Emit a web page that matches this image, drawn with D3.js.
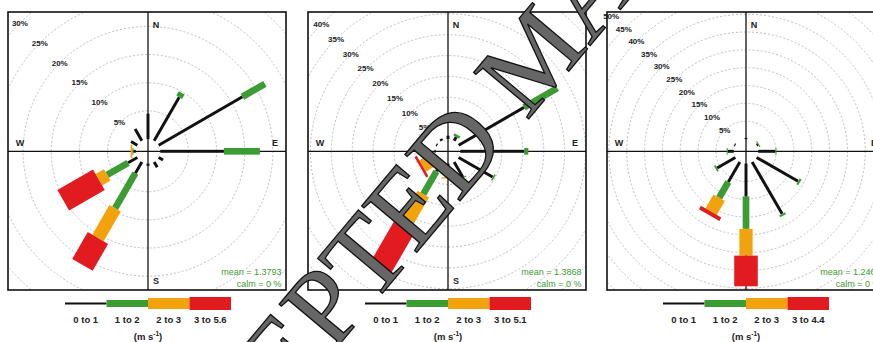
<!DOCTYPE html>
<html>
<head>
<meta charset="utf-8">
<script src="https://cdn.jsdelivr.net/npm/d3@7"></script>
<style>
    body { margin: 0; background: #fff; }
    svg { display: block; font-family: "Liberation Sans", Arial, sans-serif; }
</style>
</head>
<body>
<div id="wrapper"></div>
<script>
const directions = [0, 30, 60, 90, 120, 150, 180, 210, 240, 270, 300, 330]
const speedBins = ['0 to 1', '1 to 2', '2 to 3']
const topBins = ['3 to 5.6', '3 to 5.1', '3 to 4.4']
const meanSpeeds = ['1.3793', '1.3868', '1.2466']
const calmPct = [0, 0, 0]
const ringTicksA = [5, 10, 15, 20, 25, 30]
const ringTicksB = [5, 10, 15, 20, 25, 30, 35, 40]
const ringTicksC = [5, 10, 15, 20, 25, 30, 35, 40, 45, 50]

// % of hours per direction, one column per speed bin
const freqA = [
    [4.5, 0, 0, 0],
    [8.9, 0.9, 0, 0],
    [17.2, 4.6, 0, 0],
    [11.3, 6.4, 0, 0],
    [0.9, 0, 0, 0],
    [1.1, 0, 0, 0],
    [0.4, 0, 0, 0],
    [2.3, 7.2, 6.1, 5.5],
    [1.9, 4.3, 1.7, 7.3],
    [0.4, 0.2, 0.3, 0],
    [1.3, 0, 0, 0],
    [2.4, 0, 0, 0]
]
const freqB = [
    [0.8, 0, 0, 0],
    [1.0, 0.6, 0, 0],
    [18.1, 9.2, 0, 0],
    [15.3, 1.0, 0, 0],
    [9.4, 0.4, 0, 0],
    [4.2, 0.3, 0, 0],
    [3.1, 0.2, 0.3, 0],
    [2.6, 6.3, 7.8, 12.7],
    [0.8, 0.5, 2.8, 0.6],
    [0.3, 0, 0, 0],
    [0.3, 0, 0, 0],
    [0.5, 0, 0, 0]
]
const freqC = [
    [0.3, 0, 0, 0],
    [0, 0, 0, 0],
    [0.4, 0.3, 0, 0],
    [4.8, 0.3, 0, 0],
    [13.4, 0.6, 0, 0],
    [16.8, 0.6, 0, 0],
    [9.2, 9.1, 7.5, 8.6],
    [6.5, 5.1, 4.5, 1.1],
    [5.9, 0.5, 0, 0],
    [1.7, 0.3, 0, 0],
    [0.3, 0, 0, 0],
    [0, 0, 0, 0]
]

const colours = ['#111111', '#3c9c34', '#f2a20c', '#e11b1f']
const keyHeights = [2, 7, 11, 13]
const lo = Math.pow(0.002, 0.25), hi = Math.pow(0.016, 0.25)
const boxWidths = d3.range(4).map(i => Math.pow(lo + (hi - lo) * i / 3, 4))

const panels = [
    { freq: freqA, ticks: ringTicksA, x0: 8, cx: 148 },
    { freq: freqB, ticks: ringTicksB, x0: 308, cx: 448 },
    { freq: freqC, ticks: ringTicksC, x0: 607, cx: 746 }
]
const size = 278, y0 = 12, cy = 151.3

const svg = d3.select('#wrapper').append('svg')
    .attr('width', 873)
    .attr('height', 342)

panels.forEach((p, idx) => {
    const maxFreq = d3.max(p.freq, row => d3.sum(row))
    const offset = maxFreq * 0.1
    const r = d3.scaleLinear().domain([0, maxFreq * 1.1]).range([0, 135])

    svg.append('clipPath').attr('id', 'clip' + idx)
        .append('rect')
        .attr('x', p.x0).attr('y', y0)
        .attr('width', size).attr('height', size)

    const g = svg.append('g').attr('clip-path', `url(#clip${idx})`)

    g.selectAll('circle.ring')
        .data(p.ticks)
        .enter()
        .append('circle')
        .attr('class', 'ring')
        .attr('cx', p.cx).attr('cy', cy)
        .attr('r', d => r(offset + d))
        .attr('fill', 'none')
        .attr('stroke', '#a8adbd')
        .attr('stroke-width', 0.8)
        .attr('stroke-dasharray', '2,2')

    g.append('line')
        .attr('x1', p.x0).attr('x2', p.x0 + size)
        .attr('y1', cy).attr('y2', cy)
        .attr('stroke', '#111').attr('stroke-width', 1.3)
    g.append('line')
        .attr('x1', p.cx).attr('x2', p.cx)
        .attr('y1', y0).attr('y2', y0 + size)
        .attr('stroke', '#111').attr('stroke-width', 1.3)

    const compass = [
        { t: 'N', x: p.cx + 8, y: y0 + 13 },
        { t: 'S', x: p.cx + 8, y: y0 + size - 9 },
        { t: 'W', x: p.x0 + 12, y: cy - 8 },
        { t: 'E', x: p.x0 + size - 11, y: cy - 8 }
    ]
    g.selectAll('text.compass')
        .data(compass)
        .enter()
        .append('text')
        .attr('x', d => d.x).attr('y', d => d.y)
        .attr('text-anchor', 'middle')
        .attr('dominant-baseline', 'central')
        .attr('font-size', 9)
        .attr('font-weight', 'bold')
        .attr('fill', '#222')
        .text(d => d.t)

    g.append('text')
        .attr('x', p.x0 + size - 4.5).attr('y', 275)
        .attr('text-anchor', 'end')
        .attr('font-size', 9)
        .attr('fill', '#3f9a32')
        .text('mean = ' + meanSpeeds[idx])
    g.append('text')
        .attr('x', p.x0 + size - 4.5).attr('y', 287)
        .attr('text-anchor', 'end')
        .attr('font-size', 9)
        .attr('fill', '#3f9a32')
        .text('calm = ' + calmPct[idx] + ' %')

    const paddles = []
    p.freq.forEach((row, i) => {
        const cum = d3.cumsum(row)
        row.forEach((v, j) => {
            if (v > 0) paddles.push({ dir: directions[i], bin: j, from: cum[j] - v, to: cum[j] })
        })
    })

    g.selectAll('rect.paddle')
        .data(paddles)
        .enter()
        .append('rect')
        .attr('class', 'paddle')
        .attr('transform', d => `translate(${p.cx},${cy}) rotate(${d.dir})`)
        .attr('x', d => -r(boxWidths[d.bin] * maxFreq * 6))
        .attr('width', d => 2 * r(boxWidths[d.bin] * maxFreq * 6))
        .attr('y', d => -r(offset + d.to))
        .attr('height', d => r(d.to) - r(d.from))
        .attr('fill', d => colours[d.bin])

    svg.selectAll('text.ringlab' + idx)
        .data(p.ticks)
        .enter()
        .append('text')
        .attr('x', d => p.cx - r(offset + d) * Math.SQRT1_2)
        .attr('y', d => cy - r(offset + d) * Math.SQRT1_2)
        .attr('text-anchor', 'middle')
        .attr('dominant-baseline', 'central')
        .attr('font-size', 8)
        .attr('font-weight', 'bold')
        .attr('fill', '#222')
        .text(d => d + '%')

    svg.append('rect')
        .attr('x', p.x0).attr('y', y0)
        .attr('width', size).attr('height', size)
        .attr('fill', 'none')
        .attr('stroke', '#111')
        .attr('stroke-width', 1.6)

    // key
    const labels = speedBins.concat([topBins[idx]])
    const key = d3.scaleBand().domain(labels).range([p.cx - 83, p.cx + 83])
    svg.selectAll('rect.key' + idx)
        .data(labels)
        .enter()
        .append('rect')
        .attr('x', d => key(d))
        .attr('width', key.bandwidth())
        .attr('y', (d, i) => 303.5 - keyHeights[i] / 2)
        .attr('height', (d, i) => keyHeights[i])
        .attr('fill', (d, i) => colours[i])
    svg.selectAll('text.key' + idx)
        .data(labels)
        .enter()
        .append('text')
        .attr('x', d => key(d) + key.bandwidth() / 2)
        .attr('y', 323)
        .attr('text-anchor', 'middle')
        .attr('font-size', 9.5)
        .attr('font-weight', 'bold')
        .attr('fill', '#222')
        .text(d => d)
    const unit = svg.append('text')
        .attr('x', p.cx).attr('y', 340)
        .attr('text-anchor', 'middle')
        .attr('font-size', 9.5)
        .attr('font-weight', 'bold')
        .attr('fill', '#222')
    unit.append('tspan').text('(m s')
    unit.append('tspan').attr('dy', -4).attr('font-size', 6.5).text('-1')
    unit.append('tspan').attr('dy', 4).text(')')
})

// journal watermark laid over the figure
svg.append('text')
    .attr('transform', 'translate(563,78) rotate(-50)')
    .attr('text-anchor', 'middle')
    .style('font-family', '"Liberation Serif", "Times New Roman", serif')
    .attr('font-size', 110)
    .attr('fill', '#666')
    .attr('stroke', '#111')
    .attr('stroke-width', 1.3)
    .text('ACCEPTED MANUSCRIPT')
</script>
</body>
</html>
